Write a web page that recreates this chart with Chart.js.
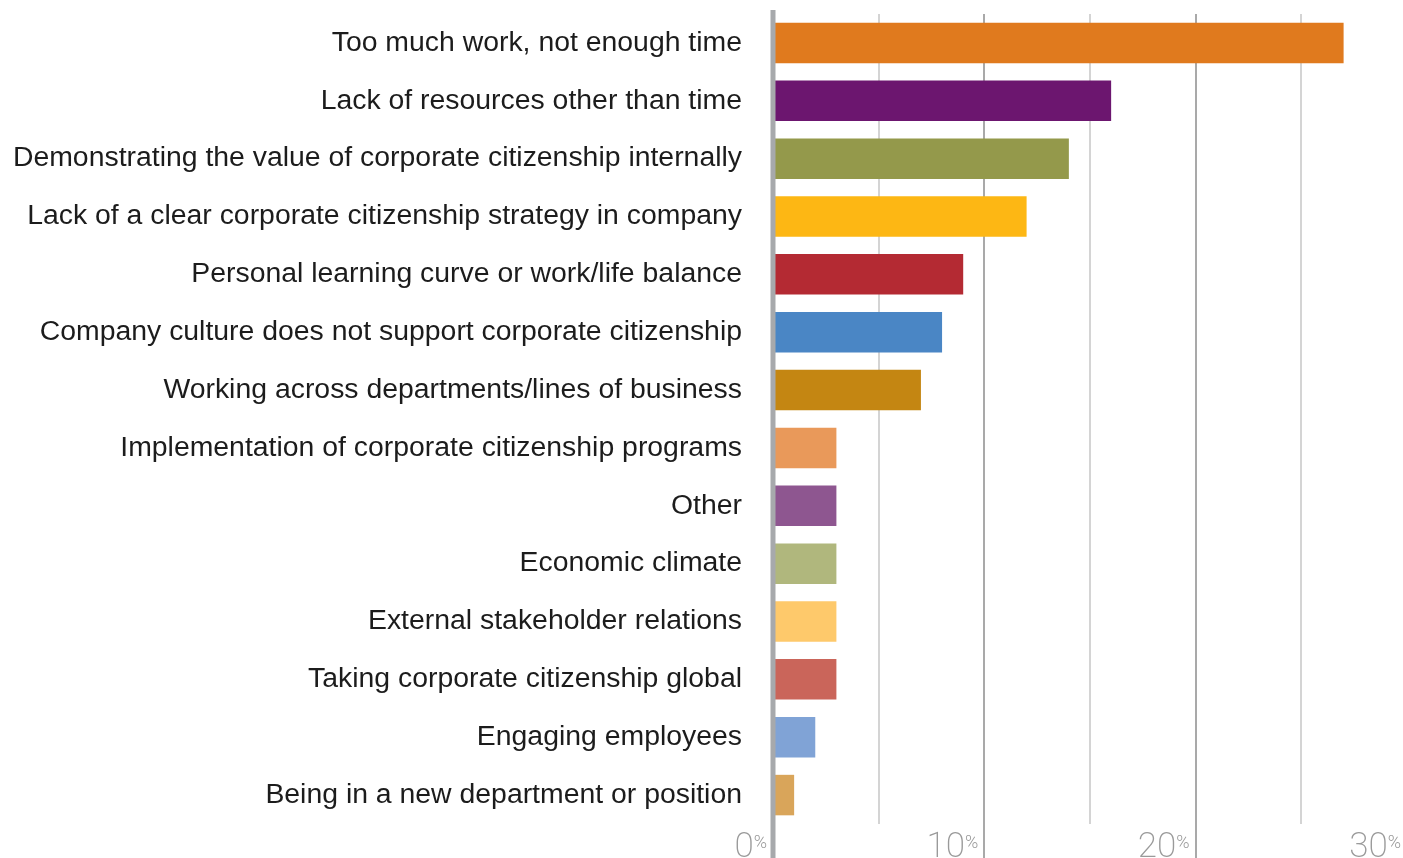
<!DOCTYPE html>
<html>
<head>
<meta charset="utf-8">
<script src="https://cdn.jsdelivr.net/npm/chart.js@4.4.1/dist/chart.umd.min.js"></script>
<style>
  html, body { margin: 0; padding: 0; background: #fff; overflow: hidden; }
  .wrap { width: 1410px; height: 858px; }
</style>
</head>
<body>
<div class="wrap"><canvas id="chart"></canvas></div>
<script>
const categories = [
  "Too much work, not enough time",
  "Lack of resources other than time",
  "Demonstrating the value of corporate citizenship internally",
  "Lack of a clear corporate citizenship strategy in company",
  "Personal learning curve or work/life balance",
  "Company culture does not support corporate citizenship",
  "Working across departments/lines of business",
  "Implementation of corporate citizenship programs",
  "Other",
  "Economic climate",
  "External stakeholder relations",
  "Taking corporate citizenship global",
  "Engaging employees",
  "Being in a new department or position",
];
const percents = [27, 16, 14, 12, 9, 8, 7, 3, 3, 3, 3, 3, 2, 1];
const barColors = [
  "#E07A1E", "#6C166F", "#94994B", "#FDB714", "#B42A33", "#4A86C5", "#C48612",
  "#E9995A", "#8E5690", "#B0B77D", "#FEC96B", "#CA655A", "#80A3D6", "#D9A55A",
];
const tickValues = [0, 10, 20, 30];

// draws "0%" style labels with a small raised percent sign
const percentTicks = {
  id: "percentTicks",
  afterDraw(chart) {
    const { ctx } = chart;
    const x = chart.scales.x;
    ctx.save();
    ctx.fillStyle = "#9a9a9a";
    ctx.textBaseline = "alphabetic";
    ctx.textAlign = "right";
    tickValues.forEach((v) => {
      const px = x.getPixelForValue(v) - 6;
      ctx.font = "300 18px Roboto";
      const pw = ctx.measureText("%").width;
      ctx.fillText("%", px, 848);
      ctx.font = "200 35px Roboto";
      ctx.fillText(String(v), px - pw, 857);
    });
    ctx.restore();
  },
};

// zero line sits on top of the bar bases
const zeroLine = {
  id: "zeroLine",
  afterDatasetsDraw(chart) {
    const { ctx } = chart;
    const px = chart.scales.x.getPixelForValue(0);
    ctx.save();
    ctx.strokeStyle = "#a7a9ac";
    ctx.lineWidth = 5;
    ctx.beginPath();
    ctx.moveTo(px, chart.chartArea.top - 4);
    ctx.lineTo(px, chart.height);
    ctx.stroke();
    ctx.restore();
  },
};

new Chart(document.getElementById("chart"), {
  type: "bar",
  data: {
    labels: categories,
    datasets: [
      {
        data: percents,
        backgroundColor: barColors,
        barPercentage: 0.7,
        categoryPercentage: 1,
      },
    ],
  },
  options: {
    indexAxis: "y",
    responsive: true,
    maintainAspectRatio: false,
    animation: false,
    layout: { padding: { top: 14, right: 3, left: 0, bottom: 0 } },
    plugins: {
      legend: { display: false },
      tooltip: { enabled: false },
    },
    scales: {
      x: {
        min: 0,
        max: 30,
        afterFit: (scale) => {
          scale.height = 34;
          scale.paddingLeft = 0;
          scale.paddingRight = 0;
        },
        ticks: { stepSize: 5, display: false },
        grid: {
          lineWidth: 2,
          color: (c) => (c.tick && c.tick.value % 10 === 0 ? "#a9a9a9" : "#d4d4d4"),
          tickColor: (c) => (c.tick && c.tick.value % 10 === 0 ? "#a9a9a9" : "rgba(0,0,0,0)"),
          tickLength: 34,
        },
        border: { display: false },
      },
      y: {
        afterFit: (scale) => {
          scale.width = 773;
          scale.paddingTop = 0;
          scale.paddingBottom = 0;
        },
        grid: { display: false, drawTicks: false },
        border: { display: false },
        ticks: {
          padding: 31,
          color: "#1c1c1c",
          font: { family: "'Liberation Sans', Arial, sans-serif", size: 28.4 },
        },
      },
    },
  },
  plugins: [percentTicks, zeroLine],
});
</script>
</body>
</html>
